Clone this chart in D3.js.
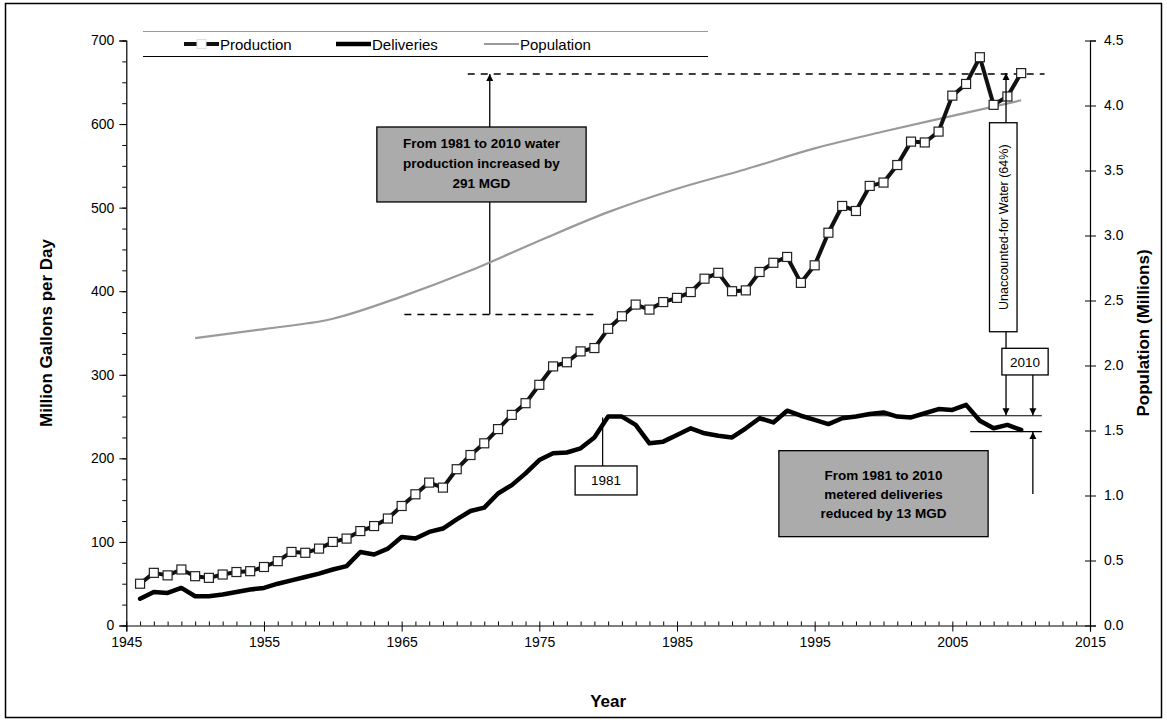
<!DOCTYPE html>
<html><head><meta charset="utf-8">
<script src="https://cdn.jsdelivr.net/npm/d3@7"></script>
<style>
body{margin:0;background:#fff;}
svg{display:block;font-family:"Liberation Sans",Arial,sans-serif;}
</style></head><body>
<svg id="c" width="1167" height="722"></svg>
<script>
const years = d3.range(1946, 2011);
const production = [50,63,60,67,59,57,61,64,65,70,77,88,87,92,100,104,113,119,128,143,157,171,165,187,204,218,235,252,266,288,310,315,328,332,355,370,384,378,387,392,399,415,422,400,401,423,434,441,410,431,470,502,496,526,530,551,579,578,591,634,648,680,623,633,661];
const deliveries = [32,40,39,45,35,35,37,40,43,45,50,54,58,62,67,71,88,85,92,106,104,112,116,127,137,141,158,168,182,198,206,207,212,225,250,250,240,218,220,228,236,230,227,225,236,248,243,257,251,246,241,248,250,253,255,250,249,254,259,258,264,245,236,240,234];
const popYears = [1950,1955,1960,1965,1970,1975,1980,1985,1990,1995,2000,2005,2010];
const population = [2.21,2.28,2.36,2.53,2.73,2.96,3.18,3.36,3.51,3.67,3.80,3.92,4.04];
const xTicks = d3.range(1945, 2016, 10);
const yTicks = d3.range(0, 701, 100);
const yRTicks = d3.range(0, 4.51, 0.5);
const legendLabels = ["Production","Deliveries","Population"];

const svg = d3.select("#c");
const x = d3.scaleLinear([1945,2015],[126.3,1090]);
const y = d3.scaleLinear([0,700],[625.5,40.5]);
const yR = d3.scaleLinear([0,4.5],[625.5,40.5]);

// outer frame
svg.append("rect").attr("x",5.5).attr("y",3.5).attr("width",1156).attr("height",714)
  .attr("fill","none").attr("stroke","#000").attr("stroke-width",1.5);

const tickFont = g => g.selectAll("text").attr("font-size",14).attr("fill","#000").attr("font-family","Liberation Sans, Arial, sans-serif");

// axes
const gx = svg.append("g").attr("transform",`translate(0,${y(0)})`)
  .call(d3.axisBottom(x).tickValues(xTicks).tickFormat(d3.format("d")).tickSize(6).tickPadding(6));
gx.call(tickFont);
svg.append("g").attr("transform",`translate(0,${y(0)})`)
  .call(d3.axisTop(x).tickValues(d3.range(1945,2016,1)).tickFormat("").tickSize(4).tickSizeOuter(0))
  .select(".domain").remove();

const gy = svg.append("g").attr("transform",`translate(${x(1945)},0)`)
  .call(d3.axisLeft(y).tickValues(yTicks).tickSize(7).tickPadding(5));
gy.call(tickFont);
svg.append("g").attr("transform",`translate(${x(1945)},0)`)
  .call(d3.axisLeft(y).tickValues(d3.range(0,701,25)).tickFormat("").tickSize(4).tickSizeOuter(0))
  .select(".domain").remove();

const gr = svg.append("g").attr("transform",`translate(${x(2015)},0)`)
  .call(d3.axisRight(yR).tickValues(yRTicks).tickFormat(d3.format(".1f")).tickSize(6).tickPadding(8));
gr.call(tickFont);
svg.append("g").attr("transform",`translate(${x(2015)},0)`)
  .call(d3.axisLeft(yR).tickValues(yRTicks).tickFormat("").tickSize(5).tickSizeOuter(0))
  .select(".domain").remove();
svg.selectAll(".domain").attr("stroke","#000").attr("stroke-width",1.2);

// axis titles
svg.append("text").attr("transform",`translate(52,${(y(0)+y(700))/2}) rotate(-90)`)
  .attr("text-anchor","middle").attr("font-size",17).attr("font-weight","bold").text("Million Gallons per Day");
svg.append("text").attr("transform",`translate(1149,${(y(0)+y(700))/2}) rotate(-90)`)
  .attr("text-anchor","middle").attr("font-size",17).attr("font-weight","bold").text("Population (Millions)");
svg.append("text").attr("x",(x(1945)+x(2015))/2).attr("y",707).attr("text-anchor","middle")
  .attr("font-size",17).attr("font-weight","bold").text("Year");

// arrow markers
const defs = svg.append("defs");
defs.append("marker").attr("id","ah").attr("viewBox","0 0 10 10").attr("refX",10).attr("refY",5)
  .attr("markerWidth",7).attr("markerHeight",9).attr("orient","auto-start-reverse").attr("markerUnits","userSpaceOnUse")
  .append("path").attr("d","M0,0L10,5L0,10Z").attr("fill","#000");

// annotation lines (behind data)
const ann = svg.append("g");
// 1981 -> 2010 production difference
ann.append("line").attr("x1",x(1965.2)).attr("x2",x(1979.0)).attr("y1",y(372)).attr("y2",y(372))
  .attr("stroke","#000").attr("stroke-width",1.5).attr("stroke-dasharray","7,6");
ann.append("line").attr("x1",x(1969.8)).attr("x2",x(2011.7)).attr("y1",y(660)).attr("y2",y(660))
  .attr("stroke","#000").attr("stroke-width",1.5).attr("stroke-dasharray","7,6");
ann.append("line").attr("x1",x(1971.4)).attr("x2",x(1971.4)).attr("y1",y(372)).attr("y2",y(660))
  .attr("stroke","#000").attr("stroke-width",1.3).attr("marker-end","url(#ah)");
// deliveries reference lines
ann.append("line").attr("x1",x(1981)).attr("x2",x(2011.5)).attr("y1",y(251)).attr("y2",y(251))
  .attr("stroke","#000").attr("stroke-width",1.2);
ann.append("line").attr("x1",x(2006.3)).attr("x2",x(2011.5)).attr("y1",y(232)).attr("y2",y(232))
  .attr("stroke","#000").attr("stroke-width",1.2);
// 1981 leader
ann.append("line").attr("x1",x(1979.6)).attr("x2",x(1979.6)).attr("y1",y(190.9)).attr("y2",y(249))
  .attr("stroke","#000").attr("stroke-width",1.2);

// population
const popData = popYears.map((d,i)=>({x:d,v:population[i]}));
svg.append("path").datum(popData).attr("fill","none").attr("stroke","#9a9a9a").attr("stroke-width",2.2)
  .attr("d",d3.line().x(d=>x(d.x)).y(d=>yR(d.v)).curve(d3.curveMonotoneX));

// deliveries
const delData = years.map((d,i)=>({x:d,v:deliveries[i]}));
svg.append("path").datum(delData).attr("fill","none").attr("stroke","#000").attr("stroke-width",4.5)
  .attr("stroke-linejoin","round").attr("stroke-linecap","round")
  .attr("d",d3.line().x(d=>x(d.x)).y(d=>y(d.v)));

// production
const prodData = years.map((d,i)=>({x:d,v:production[i]}));
svg.append("path").datum(prodData).attr("fill","none").attr("stroke","#111").attr("stroke-width",4)
  .attr("stroke-linejoin","round")
  .attr("d",d3.line().x(d=>x(d.x)).y(d=>y(d.v)));
svg.append("g").selectAll("rect").data(prodData).join("rect")
  .attr("x",d=>x(d.x)-4.5).attr("y",d=>y(d.v)-4.5).attr("width",9).attr("height",9)
  .attr("fill","#fff").attr("stroke","#222").attr("stroke-width",1.2);

// boxes
function box(x0,x1,v0,v1,fill){
  return svg.append("rect").attr("x",x(x0)).attr("y",y(v1)).attr("width",x(x1)-x(x0)).attr("height",y(v0)-y(v1))
    .attr("fill",fill).attr("stroke","#000").attr("stroke-width",1.3);
}
function lines(cx, ys, arr, size, bold){
  arr.forEach((t,i)=>svg.append("text").attr("x",cx).attr("y",ys[i]).attr("text-anchor","middle")
    .attr("font-size",size).attr("font-weight",bold?"bold":"normal").text(t));
}
box(1963.2,1978.4,506.8,596.5,"#ababab");
lines((x(1963.2)+x(1978.4))/2,[y(596.5)+21,y(596.5)+41,y(596.5)+61],
  ["From 1981 to 2010 water","production increased by","291 MGD"],13.5,true);

box(1992.4,2007.6,106.3,209.2,"#ababab");
lines((x(1992.4)+x(2007.6))/2,[y(209.2)+29,y(209.2)+48,y(209.2)+67],
  ["From 1981 to 2010","metered deliveries","reduced by 13 MGD"],13.5,true);

box(1977.6,1982.1,156.2,190.9,"#fff");
lines((x(1977.6)+x(1982.1))/2,[(y(156.2)+y(190.9))/2+5],["1981"],13.5,false);

// Unaccounted-for Water
box(2007.7,2009.7,351.5,601.6,"#fff");
svg.append("text").attr("transform",`translate(${(x(2007.7)+x(2009.7))/2+4.5},${(y(351.5)+y(601.6))/2}) rotate(-90)`)
  .attr("text-anchor","middle").attr("font-size",12.5).text("Unaccounted-for Water (64%)");
svg.append("line").attr("x1",x(2008.9)).attr("x2",x(2008.9)).attr("y1",y(601.6)).attr("y2",y(661))
  .attr("stroke","#000").attr("stroke-width",1.3).attr("marker-end","url(#ah)");
svg.append("line").attr("x1",x(2008.9)).attr("x2",x(2008.9)).attr("y1",y(351.5)).attr("y2",y(331.7))
  .attr("stroke","#000").attr("stroke-width",1.3);

// 2010 box and arrows
box(2008.6,2011.96,299.8,331.7,"#fff");
lines((x(2008.6)+x(2011.96))/2,[(y(299.8)+y(331.7))/2+5],["2010"],13.5,false);
[2008.9,2010.85].forEach(xx=>svg.append("line").attr("x1",x(xx)).attr("x2",x(xx)).attr("y1",y(299.8)).attr("y2",y(251.5))
  .attr("stroke","#000").attr("stroke-width",1.3).attr("marker-end","url(#ah)"));
svg.append("line").attr("x1",x(2010.85)).attr("x2",x(2010.85)).attr("y1",y(157.4)).attr("y2",y(231.5))
  .attr("stroke","#000").attr("stroke-width",1.3).attr("marker-end","url(#ah)");

// legend
const lg = svg.append("g");
lg.append("line").attr("x1",143).attr("x2",708).attr("y1",31.5).attr("y2",31.5).attr("stroke","#999").attr("stroke-width",1.2);
lg.append("line").attr("x1",143).attr("x2",708).attr("y1",56.5).attr("y2",56.5).attr("stroke","#000").attr("stroke-width",1.2);
const legX = [184, 336, 484];
const styles = [{c:"#111",w:4},{c:"#000",w:4.5},{c:"#9a9a9a",w:2.2}];
legendLabels.forEach((t,i)=>{
  lg.append("line").attr("x1",legX[i]).attr("x2",legX[i]+35).attr("y1",44).attr("y2",44)
    .attr("stroke",styles[i].c).attr("stroke-width",styles[i].w);
  if(i===0) lg.append("rect").attr("x",legX[i]+13).attr("y",39.5).attr("width",9).attr("height",9)
    .attr("fill","#fff").attr("stroke","#ddd").attr("stroke-width",1);
  lg.append("text").attr("x",legX[i]+36).attr("y",49.5).attr("font-size",15).text(t);
});
</script>
</body></html>
